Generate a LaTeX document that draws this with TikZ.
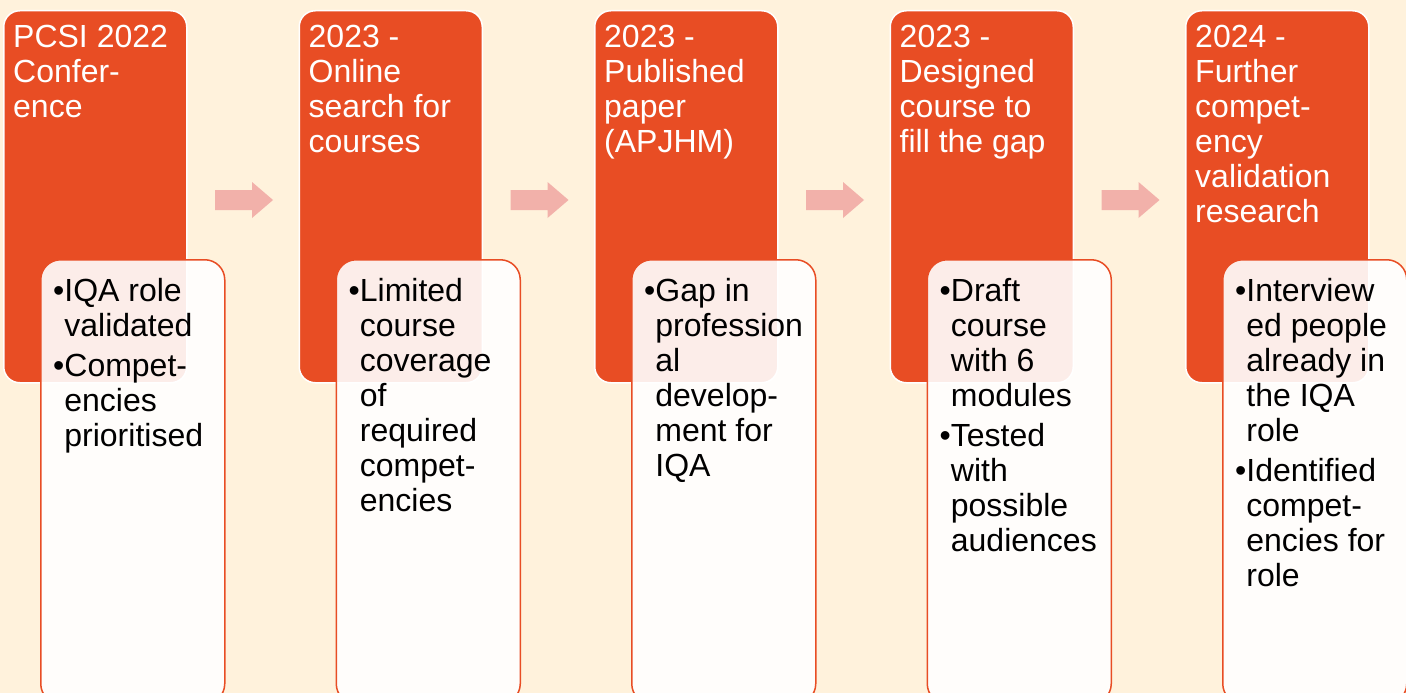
\documentclass[tikz,border=0pt]{standalone}
\usepackage{fontspec}
\setmainfont{Liberation Sans}
\usetikzlibrary{calc}
\definecolor{bg}{HTML}{FFF2DC}
\definecolor{acc}{HTML}{E84D24}
\definecolor{arr}{HTML}{F2B1AA}
\tikzset{
  obox/.style={fill=acc, draw=white, line width=1.5pt, rounded corners=16pt,
    minimum width=183pt, minimum height=372pt, anchor=north west, inner sep=0pt},
  wbox/.style={fill=white, fill opacity=0.9, draw=acc, line width=1.5pt, rounded corners=20pt,
    minimum width=184pt, minimum height=444pt, anchor=north west, inner sep=0pt},
  otext/.style={text=white, anchor=north west, inner sep=0pt, align=left,
    font=\fontsize{32pt}{35pt}\selectfont},
  wtext/.style={text=black, anchor=north west, inner sep=0pt, align=left,
    font=\fontsize{32pt}{35pt}\selectfont},
  blockarrow/.style={fill=arr}
}
\newcommand{\bl}{\hphantom{•}}
\begin{document}
\begin{tikzpicture}[x=1pt,y=-1pt]
\clip (0,0) rectangle (1406,693);
\fill[bg] (0,0) rectangle (1406,693);
% orange boxes
\foreach \i in {1,...,5}{
  \node[obox] (o\i) at ({3+295.5*(\i-1)},10) {};
}
% arrows
\foreach \i in {1,...,4}{
  \fill[blockarrow] ({215+295.5*(\i-1)},190) -- ++(37,0) -- ++(0,-8) -- ++(21,18) -- ++(-21,18) -- ++(0,-8) -- ++(-37,0) -- cycle;
}
% white boxes
\foreach \i in {1,...,5}{
  \node[wbox] (w\i) at ({40+295.5*(\i-1)},259) {};
}
% orange texts
\node[otext] (ot1) at ($(o1.north west)+(10,12.5)$) {\strut PCSI 2022\\Confer-\\ence};
\node[otext] (ot2) at ($(o2.north west)+(10,12.5)$) {\strut 2023 -\\Online\\search for\\courses};
\node[otext] (ot3) at ($(o3.north west)+(10,12.5)$) {\strut 2023 -\\Published\\paper\\(APJHM)};
\node[otext] (ot4) at ($(o4.north west)+(10,12.5)$) {\strut 2023 -\\Designed\\course to\\fill the gap};
\node[otext] (ot5) at ($(o5.north west)+(10,12.5)$) {\strut 2024 -\\Further\\compet-\\ency\\validation\\research};
% white texts
\node[wtext] (wt1) at ($(w1.north west)+(13,17.5)$) {\strut •IQA role\\\bl validated\\[5pt]•Compet-\\\bl encies\\\bl prioritised};
\node[wtext] (wt2) at ($(w2.north west)+(13,17.5)$) {\strut •Limited\\\bl course\\\bl coverage\\\bl of\\\bl required\\\bl compet-\\\bl encies};
\node[wtext] (wt3) at ($(w3.north west)+(13,17.5)$) {\strut •Gap in\\\bl profession\\\bl al\\\bl develop-\\\bl ment for\\\bl IQA};
\node[wtext] (wt4) at ($(w4.north west)+(13,17.5)$) {\strut •Draft\\\bl course\\\bl with 6\\\bl modules\\[5pt]•Tested\\\bl with\\\bl possible\\\bl audiences};
\node[wtext] (wt5) at ($(w5.north west)+(13,17.5)$) {\strut •Interview\\\bl ed people\\\bl already in\\\bl the IQA\\\bl role\\[5pt]•Identified\\\bl compet-\\\bl encies for\\\bl role};
\end{tikzpicture}
\end{document}
